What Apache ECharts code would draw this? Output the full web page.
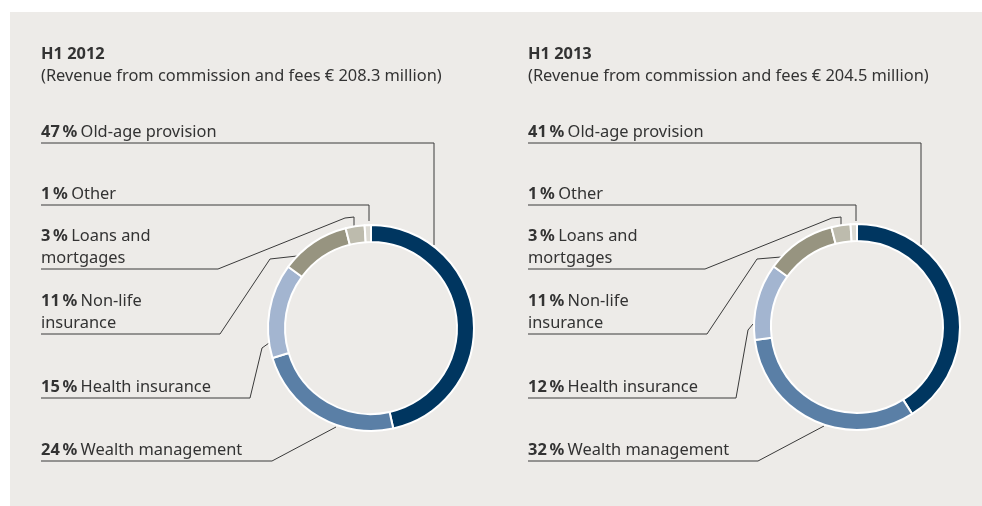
<!DOCTYPE html>
<html>
<head>
<meta charset="utf-8">
<script src="https://cdn.jsdelivr.net/npm/echarts@6/dist/echarts.min.js"></script>
<style>
  html, body { margin: 0; padding: 0; background: #fff; }
  #chart { width: 982px; height: 506px; }
</style>
</head>
<body>
<div id="chart"></div>
<script>
// data
const periods = ['H1 2012', 'H1 2013']
const revenue = ['208.3', '204.5']
const categories = ['Old-age provision', 'Wealth management', 'Health insurance', 'Non-life\ninsurance', 'Loans and\nmortgages', 'Other']
const share2012 = [47, 24, 15, 11, 3, 1]
const share2013 = [41, 32, 12, 11, 3, 1]

const colors = ['#003660', '#5a7fa6', '#a3b5d0', '#979480', '#bdbbad', '#dcdad3']
const font = 'Noto Sans'
const fontSize = 16.4
const textColor = '#333'

// leader lines: label column x, underline y, then bends to the ring
const leaders = [
  [
    [[41, 143], [434, 143], [434, 245]],
    [[41, 461], [272, 461], [336, 427]],
    [[41, 398], [250, 398], [262, 348], [269, 343]],
    [[41, 334], [220, 334], [270, 259], [297, 256]],
    [[41, 269], [218, 269], [345, 218], [354, 217], [354, 226]],
    [[41, 205], [369, 205], [369, 221]],
  ],
  [
    [[528, 143], [921, 143], [921, 245]],
    [[528, 461], [758, 461], [824, 426]],
    [[528, 398], [736, 398], [748, 330], [753, 324]],
    [[528, 334], [707, 334], [757, 259], [781, 257]],
    [[528, 269], [705, 269], [832, 218], [841, 217], [841, 226]],
    [[528, 205], [856, 205], [856, 221]],
  ],
]
const centers = [[371, 328], [857, 327]]
const labelX = [41, 528]

const chart = echarts.init(document.getElementById('chart'))

const makePie = (values, idx) => ({
  type: 'pie',
  center: centers[idx],
  radius: [86, 103],
  startAngle: 90,
  clockwise: true,
  avoidLabelOverlap: false,
  emphasis: { disabled: true },
  itemStyle: { borderColor: '#fff', borderWidth: 2 },
  data: values.map((v, i) => ({ name: categories[i], value: v, itemStyle: { color: colors[i] } })),
  label: {
    show: true,
    position: 'outside',
    formatter: p => '{p|' + p.value + '\u2009%} {t|' + p.name + '}',
    rich: {
      p: { fontFamily: font, fontSize: fontSize, fontWeight: 'bold', color: textColor, lineHeight: 22 },
      t: { fontFamily: font, fontSize: fontSize, color: textColor, lineHeight: 22 },
    },
  },
  labelLine: { show: true, smooth: false, lineStyle: { color: '#3a3a3a', width: 1 } },
  labelLayout: params => {
    const pts = leaders[idx][params.dataIndex]
    return {
      x: labelX[idx],
      y: pts[0][1],
      align: 'left',
      verticalAlign: 'bottom',
      labelLinePoints: pts,
    }
  },
})

const option = {
  animation: false,
  backgroundColor: '#fff',
  graphic: [
    { type: 'rect', z: -10, shape: { x: 10, y: 12, width: 972, height: 494 }, style: { fill: '#edebe8' } },
  ],
  title: periods.map((t, i) => ({
    text: t,
    subtext: '(Revenue from commission and fees \u20ac ' + revenue[i] + ' million)',
    left: labelX[i],
    top: 44,
    padding: 0,
    itemGap: 2,
    textStyle: { fontFamily: font, fontSize: fontSize, fontWeight: 'bold', color: textColor, lineHeight: 20 },
    subtextStyle: { fontFamily: font, fontSize: fontSize, color: textColor, lineHeight: 20 },
  })),
  series: [makePie(share2012, 0), makePie(share2013, 1)],
}

chart.setOption(option)
</script>
</body>
</html>
